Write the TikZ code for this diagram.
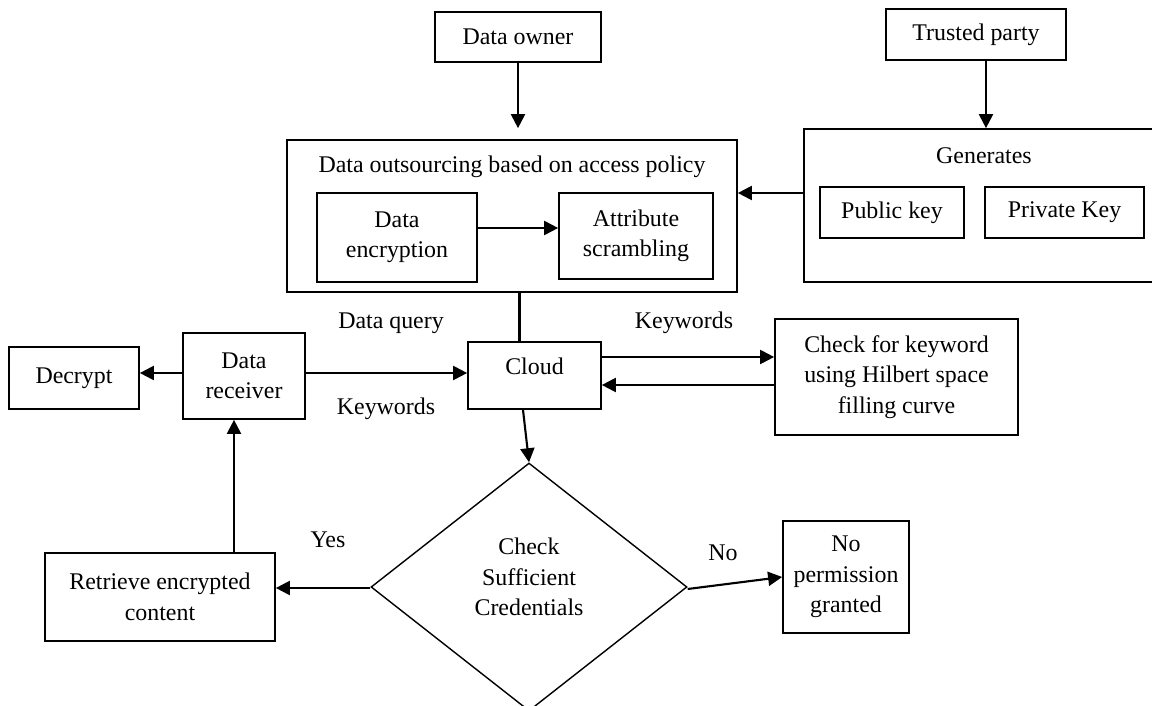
\documentclass[tikz,border=0pt]{standalone}
\usepackage{fontspec}
\setmainfont{Liberation Serif}
\usetikzlibrary{shapes.geometric,arrows.meta}

\begin{document}
\begin{tikzpicture}[font=\fontsize{17}{21.7}\selectfont,
  box/.style={draw,line width=1.2pt,align=center,inner sep=2pt},
  decision/.style={draw,diamond,line width=1pt,inner sep=0pt},
  arr/.style={line width=1.5pt,-{Triangle[length=10pt,width=10pt]}}]
\useasboundingbox (0,0) rectangle (28.8,-17.65);
% top row
\node[box,minimum width=4.15cm,minimum height=1.25cm] (owner) at (12.95,-0.925) {Data owner};
\node[box,minimum width=4.5cm,minimum height=1.275cm] (trusted) at (24.4,-0.8625) {Trusted party};
% outsourcing
\node[box,minimum width=11.25cm,minimum height=3.8cm] (outsource) at (12.8,-5.4) {};
\node (otitle) at (12.8,-4.175) {Data outsourcing based on access policy};
\node[box,minimum width=4cm,minimum height=2.225cm] (encrypt) at (9.925,-5.9375) {Data\\encryption};
\node[box,minimum width=3.85cm,minimum height=2.15cm] (scramble) at (15.9,-5.9) {Attribute\\scrambling};
% keys
\node[box,minimum width=9.15cm,minimum height=3.825cm] (gen) at (24.675,-5.1375) {};
\node (gtitle) at (24.6,-3.9) {Generates};
\node[box,minimum width=3.6cm,minimum height=1.275cm] (pubkey) at (22.3,-5.3125) {Public key};
\node[box,minimum width=3.975cm,minimum height=1.275cm] (privkey) at (26.6125,-5.3125) {Private Key};
% middle row
\node[box,minimum width=3.325cm,minimum height=1.675cm] (cloud) at (13.3625,-9.3875) {\raisebox{0.475cm}{Cloud}};
\node[box,minimum width=3.05cm,minimum height=2.15cm] (recv) at (6.1,-9.4) {Data\\receiver};
\node[box,minimum width=3.25cm,minimum height=1.55cm] (decrypt) at (1.85,-9.45) {Decrypt};
\node[box,minimum width=6.075cm,minimum height=2.9cm] (check) at (22.4125,-9.425) {Check for keyword\\using Hilbert space\\filling curve};
% bottom row
\node[decision,minimum width=7.9cm,minimum height=6.2cm] (cred) at (13.225,-14.675) {};
\node[align=center] (ctext) at (13.225,-14.425) {Check\\Sufficient\\Credentials};
\node[box,minimum width=5.75cm,minimum height=2.2cm] (retrieve) at (4.0,-14.925) {Retrieve encrypted\\content};
\node[box,minimum width=3.15cm,minimum height=2.8cm] (noperm) at (21.15,-14.425) {No\\permission\\granted};
% labels
\node (lquery) at (9.775,-8.075) {Data query};
\node (lkeyin) at (9.65,-10.225) {Keywords};
\node (lkeyout) at (17.1,-8.075) {Keywords};
\node (lyes) at (8.2,-13.5) {Yes};
\node (lno) at (18.075,-13.825) {No};
% connectors
\draw[arr,shorten >=0.275cm] (owner.south) -- (owner.south |- outsource.north);
\draw[arr] ([xshift=0.25cm]trusted.south) -- ([xshift=0.25cm]trusted.south |- gen.north);
\draw[arr] ([yshift=0.3125cm]gen.west) -- ([yshift=0.3125cm]gen.west -| outsource.east);
\draw[arr] ([yshift=0.2375cm]encrypt.east) -- ([yshift=0.2375cm]encrypt.east -| scramble.west);
\draw[line width=1.5pt] ([xshift=-0.375cm]cloud.north) -- ([xshift=-0.375cm]cloud.north |- outsource.south);
\draw[arr] ([yshift=0.075cm]recv.west) -- ([yshift=0.075cm]recv.west -| decrypt.east);
\draw[arr] ([yshift=0.075cm]recv.east) -- ([yshift=0.075cm]recv.east -| cloud.west);
\draw[arr] ([yshift=0.4625cm]cloud.east) -- ([yshift=0.4625cm]cloud.east -| check.west);
\draw[arr] ([yshift=-0.2cm]check.west) -- ([yshift=-0.2cm]check.west -| cloud.east);
\draw[arr] ([xshift=-0.2875cm]cloud.south) -- (cred.north);
\draw[arr] ([yshift=-0.025cm]cred.west) -- ([yshift=-0.025cm]cred.west -| retrieve.east);
\draw[arr] ([xshift=-0.25cm]recv.south |- retrieve.north) -- ([xshift=-0.25cm]recv.south);
\draw[arr] ([yshift=-0.05cm]cred.east) -- (noperm.west);
\end{tikzpicture}
\end{document}
